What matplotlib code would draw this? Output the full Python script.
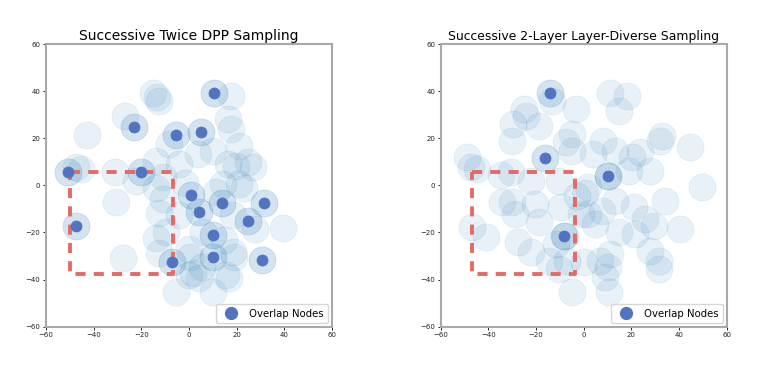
import matplotlib
matplotlib.use("Agg")
import matplotlib.pyplot as plt
from matplotlib.lines import Line2D

titles = ["Successive Twice DPP Sampling", "Successive 2-Layer Layer-Diverse Sampling"]
legend_label = "Overlap Nodes"

# ---- Left panel: nodes sampled (non-overlapping) ----
left_x = [-15.0, -12.4, -13.5, 17.6, -27.0, -42.8, 16.2, 17.6, -8.3, 3.6, 9.9, 21.1,
          16.2, 19.7, 24.6, 26.7, -13.8, -4.1, -47.4, -45.3, -30.9, -22.2, -11.0, -1.5,
          14.1, 21.1, 23.2, 11.3, -30.6, -13.8, -11.0, -12.4, -4.1, 18.3, -9.7, 5.7,
          -13.8, 39.3, 27.5, -12.4, 0.2, 18.3, -27.6, 0.5, 5.4, 15.5, 0.1, 16.9,
          4.3, -5.5, 10.0, 14.5, 18.7, 1.9]
left_y = [39.1, 36.0, 37.5, 38.1, 29.6, 21.5, 28.2, 23.9, 17.6, 13.3, 14.7, 16.9,
          9.1, 8.4, 9.8, 7.7, 10.5, 9.1, 7.7, 7.0, 5.5, 2.0, 3.4, 1.0,
          0.6, 0.6, -1.3, -2.7, -7.0, -1.3, -5.6, -11.9, -12.6, -12.6, -19.7, -19.7,
          -22.5, -18.3, -18.5, -28.9, -26.8, -28.2, -31.0, -30.3, -34.5, -38.1, -38.1, -39.5,
          -39.5, -45.2, -45.2, -23.2, -30.3, -37.4]
# ---- Left panel: overlap nodes ----
left_ov_x = [10.6, -23.0, -5.3, 5.1, -50.6, -20.2, 0.7, 14.0, 31.6, 4.4, -47.3, 24.8,
             10.2, 10.2, -7.3, 30.8]
left_ov_y = [39.1, 24.6, 21.3, 22.6, 5.5, 5.5, -4.3, -7.3, -7.3, -11.1, -17.3, -15.2,
             -20.9, -30.3, -32.7, -31.6]

# ---- Right panel: nodes sampled (non-overlapping) ----
right_x = [-13.1, -25.0, -24.3, -29.5, -18.7, -29.9, -3.4, -4.8, -7.6, -4.8, -49.1, -47.1,
           -44.9, -34.8, -30.6, -22.2, -10.3, -2.7, -34.1, -29.9, -29.0, -20.4, -18.7, -9.7,
           -46.7, -41.1, -27.4, -22.2, -14.5, -10.3, -6.9, -8.0, -4.8, 0.1, -11.7,
           11.1, 18.1, 14.9, 32.8, 32.1, 44.7, 7.9, 13.2, 4.1, 20.2, 23.7, 27.9, 18.8,
           10.4, 49.5, 34.2, 20.9, 25.8, 29.3, 40.5, 13.2, 7.6, 2.0, 4.8, 14.6, 21.6,
           11.1, 6.9, 10.4, 9.0, 10.7, 27.9, 31.4, 31.4, 1.7, -1.0, 0.4]
right_y = [36.0, 32.4, 29.6, 26.1, 25.3, 19.0, 32.4, 21.8, 18.3, 14.7, 11.9, 7.7,
           7.0, 4.4, 5.5, 2.0, 2.0, -4.4, -7.2, -7.2, -12.1, -7.9, -15.7, -9.3,
           -17.5, -22.0, -24.2, -28.4, -31.9, -35.5, -31.9, -21.3, -45.1, -32.6, -24.9,
           39.1, 38.1, 31.7, 21.1, 19.0, 16.2, 19.0, 14.7, 13.3, 11.9, 14.0, 6.3, 6.3,
           4.1, -0.8, -6.5, -9.3, -14.3, -17.1, -18.5, -6.5, -10.7, -12.1, -16.4, -19.9, -20.6,
           -29.1, -31.9, -34.8, -39.0, -45.4, -27.7, -31.9, -35.5, -0.6, -12.0, -3.4]
# ---- Right panel: overlap nodes ----
right_ov_x = [-14.3, -16.3, 10.0, -8.3]
right_ov_y = [39.1, 11.5, 4.1, -21.4]

# red dashed region (x0, x1, y0, y1)
left_box = [-50.0, -6.8, -37.8, 5.5]
right_box = [-46.7, -3.7, -37.8, 5.5]

light_color = "#1f77b4"
dark_color = "#5274c0"
box_color = "#e46a64"

fig = plt.figure(figsize=(7.65, 3.7), dpi=100)
ax_pos = [[0.060, 0.117, 0.374, 0.764], [0.576, 0.117, 0.374, 0.764]]
title_sizes = [10.0, 8.95]

panels = [
    (left_x, left_y, left_ov_x, left_ov_y, left_box),
    (right_x, right_y, right_ov_x, right_ov_y, right_box),
]

for i, (lx, ly, ox, oy, box) in enumerate(panels):
    ax = fig.add_axes(ax_pos[i])
    kw = dict(s=380, color=light_color, alpha=0.10, linewidths=0.5, zorder=2)
    ax.scatter(lx, ly, **kw)
    # overlap nodes appear in both samplings -> two light circles each
    ax.scatter(ox, oy, **kw)
    ax.scatter(ox, oy, **kw)
    ax.scatter(ox, oy, s=62, color=dark_color, linewidths=0.6, zorder=4)
    x0, x1, y0, y1 = box
    ax.plot([x0, x1, x1, x0, x0], [y1, y1, y0, y0, y1], color=box_color,
            lw=2.8, dashes=(2.6, 2.1), zorder=3)
    ax.set_xlim(-60, 60)
    ax.set_ylim(-60, 60)
    ax.set_xticks(range(-60, 61, 20))
    ax.set_yticks(range(-60, 61, 20))
    ax.tick_params(labelsize=5, length=2.5, width=0.7, pad=1.5, colors="#222222")
    for sp in ax.spines.values():
        sp.set_color("#a8a8a8")
        sp.set_linewidth(1.5)
    ax.set_title(titles[i], fontsize=title_sizes[i], pad=3)
    handle = Line2D([], [], marker="o", linestyle="none", markersize=8.5,
                    markerfacecolor=dark_color, markeredgecolor=dark_color)
    ax.legend([handle], [legend_label], loc="lower right", fontsize=7.3,
              handletextpad=0.8, borderpad=0.45, framealpha=0.8,
              borderaxespad=0.35)

fig.savefig("out.png", dpi=100)
